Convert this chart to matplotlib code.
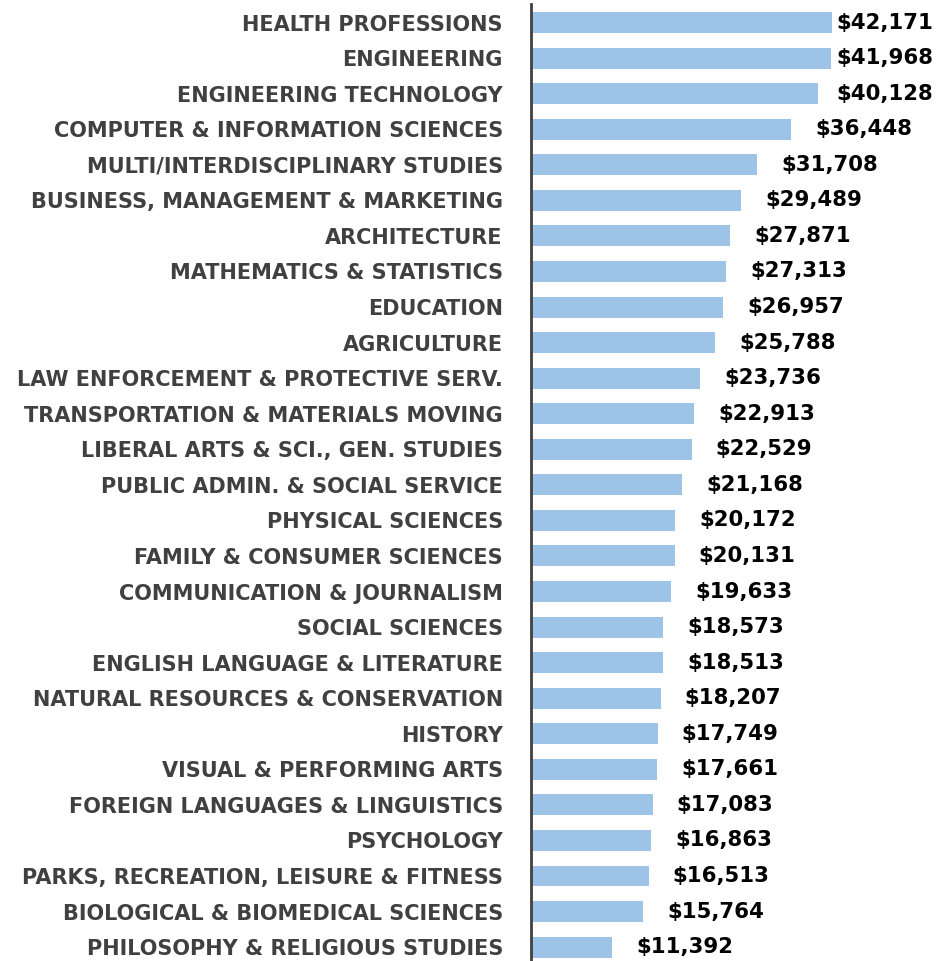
import matplotlib
matplotlib.use('Agg')
import matplotlib.pyplot as plt

majors = [
    'HEALTH PROFESSIONS',
    'ENGINEERING',
    'ENGINEERING TECHNOLOGY',
    'COMPUTER & INFORMATION SCIENCES',
    'MULTI/INTERDISCIPLINARY STUDIES',
    'BUSINESS, MANAGEMENT & MARKETING',
    'ARCHITECTURE',
    'MATHEMATICS & STATISTICS',
    'EDUCATION',
    'AGRICULTURE',
    'LAW ENFORCEMENT & PROTECTIVE SERV.',
    'TRANSPORTATION & MATERIALS MOVING',
    'LIBERAL ARTS & SCI., GEN. STUDIES',
    'PUBLIC ADMIN. & SOCIAL SERVICE',
    'PHYSICAL SCIENCES',
    'FAMILY & CONSUMER SCIENCES',
    'COMMUNICATION & JOURNALISM',
    'SOCIAL SCIENCES',
    'ENGLISH LANGUAGE & LITERATURE',
    'NATURAL RESOURCES & CONSERVATION',
    'HISTORY',
    'VISUAL & PERFORMING ARTS',
    'FOREIGN LANGUAGES & LINGUISTICS',
    'PSYCHOLOGY',
    'PARKS, RECREATION, LEISURE & FITNESS',
    'BIOLOGICAL & BIOMEDICAL SCIENCES',
    'PHILOSOPHY & RELIGIOUS STUDIES',
]

earnings = [42171, 41968, 40128, 36448, 31708, 29489, 27871, 27313, 26957,
            25788, 23736, 22913, 22529, 21168, 20172, 20131, 19633, 18573,
            18513, 18207, 17749, 17661, 17083, 16863, 16513, 15764, 11392]

plt.rcParams['font.family'] = ['DejaVu Sans']

fig = plt.figure(figsize=(9.51, 9.61), dpi=100)
ax = fig.add_axes([0.558, 0.0, 0.442, 0.9958])

pos = list(range(len(majors)))
ax.barh(pos, earnings, height=0.59, color='#9dc3e6', edgecolor='none')

ax.set_xlim(0, 58800)
ax.set_ylim(26.39, -0.52)

for i, v in enumerate(earnings):
    # labels sit a fixed gap past the bar, but the longest ones are pulled in
    lx = min(v + 3360, 42800)
    ax.text(lx, i, '${:,}'.format(v), ha='left', va='center',
            fontsize=15.3, fontweight='bold', color='black', clip_on=False)

ax.set_yticks(pos)
ax.set_yticklabels(majors, fontsize=15, fontweight='bold', color='#404040')
ax.tick_params(axis='y', length=0, pad=20)
ax.set_xticks([])

for s in ['top', 'right', 'bottom']:
    ax.spines[s].set_visible(False)
ax.spines['left'].set_color('#404040')
ax.spines['left'].set_linewidth(2)

fig.savefig('out.png', dpi=100)
